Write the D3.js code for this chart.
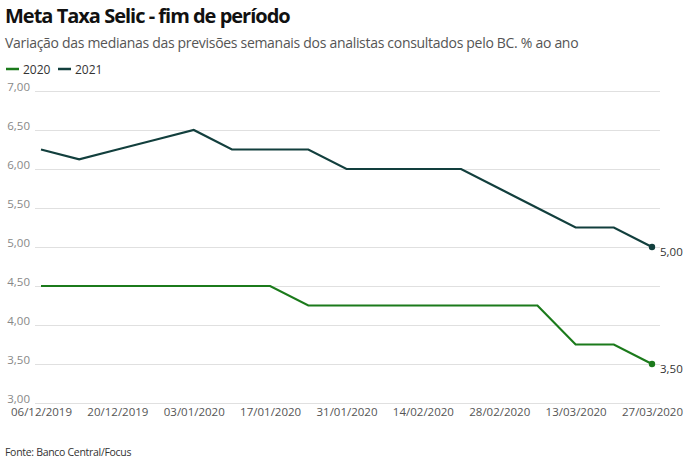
<!DOCTYPE html>
<html>
<head>
<meta charset="utf-8">
<script src="https://cdn.jsdelivr.net/npm/d3@7"></script>
<style>
    body { margin: 0; background: #fff; font-family: "Open Sans", sans-serif; }
    .grid line { stroke: #e0e0e0; }
    .grid path { display: none; }
    .axis path, .axis line { display: none; }
</style>
</head>
<body>
<div id="chart"></div>
<script>
// weekly Focus survey dates
let weekDates = ["06/12/2019", "13/12/2019", "20/12/2019", "27/12/2019", "03/01/2020", "10/01/2020",
    "17/01/2020", "24/01/2020", "31/01/2020", "07/02/2020", "14/02/2020", "21/02/2020",
    "28/02/2020", "06/03/2020", "13/03/2020", "20/03/2020", "27/03/2020"];
let selic2020 = [4.5, 4.5, 4.5, 4.5, 4.5, 4.5, 4.5, 4.25, 4.25, 4.25, 4.25, 4.25, 4.25, 4.25, 3.75, 3.75, 3.5];
let selic2021 = [6.25, 6.125, 6.25, 6.375, 6.5, 6.25, 6.25, 6.25, 6.0, 6.0, 6.0, 6.0, 5.75, 5.5, 5.25, 5.25, 5.0];
let yTicks = [3.0, 3.5, 4.0, 4.5, 5.0, 5.5, 6.0, 6.5, 7.0];
let xTickLabels = ["06/12/2019", "20/12/2019", "03/01/2020", "17/01/2020", "31/01/2020",
    "14/02/2020", "28/02/2020", "13/03/2020", "27/03/2020"];

let width = 700, height = 465;
let parseDate = d3.timeParse("%d/%m/%Y");
let br = d3.formatLocale({ decimal: ",", thousands: ".", grouping: [3], currency: ["R$", ""] });
let fmt = br.format(".2f");

let series = [
    { name: "2020", color: "#1b7a1b", values: selic2020 },
    { name: "2021", color: "#123f3d", values: selic2021 }
];

let svg = d3.select("#chart").append("svg")
    .attr("width", width)
    .attr("height", height);

// title + subtitle
svg.append("text")
    .attr("x", 5).attr("y", 23)
    .attr("font-size", 20).attr("font-weight", "bold")
    .attr("letter-spacing", -1)
    .attr("fill", "#111")
    .text("Meta Taxa Selic - fim de período");

svg.append("text")
    .attr("x", 5).attr("y", 48)
    .attr("font-size", 14).attr("letter-spacing", -0.3)
    .attr("fill", "#555")
    .text("Variação das medianas das previsões semanais dos analistas consultados pelo BC. % ao ano");

// legend
let legend = svg.append("g").attr("transform", "translate(6,69)");
let lx = 0;
series.forEach(s => {
    legend.append("line")
        .attr("x1", lx).attr("x2", lx + 13)
        .attr("stroke", s.color).attr("stroke-width", 2.5);
    legend.append("text")
        .attr("x", lx + 17).attr("y", 4.5)
        .attr("font-size", 12).attr("fill", "#333")
        .text(s.name);
    lx += 52;
});

// scales
let x = d3.scaleTime()
    .domain(d3.extent(weekDates, d => parseDate(d)))
    .range([41, 652]);

let y = d3.scaleLinear()
    .domain([3, 7])
    .range([403, 91]);

// grid lines
svg.append("g")
    .attr("class", "grid")
    .attr("transform", "translate(660,0)")
    .call(d3.axisLeft(y).tickValues(yTicks).tickSize(625).tickFormat(""));

// y axis labels
svg.append("g")
    .attr("class", "axis")
    .attr("transform", "translate(34,0)")
    .call(d3.axisLeft(y).tickValues(yTicks).tickSize(0).tickPadding(4).tickFormat(fmt))
    .selectAll("text")
    .attr("font-size", 11.5)
    .attr("font-family", "Open Sans")
    .attr("fill", "#888")
    .attr("dy", "-0.05em");

// x axis labels
svg.append("g")
    .attr("class", "axis")
    .attr("transform", "translate(0,403)")
    .call(d3.axisBottom(x).tickValues(xTickLabels.map(parseDate)).tickSize(0).tickPadding(5)
        .tickFormat(d3.timeFormat("%d/%m/%Y")))
    .selectAll("text")
    .attr("font-size", 11.5)
    .attr("font-family", "Open Sans")
    .attr("fill", "#555");

// lines
let line = d3.line()
    .x((d, i) => x(parseDate(weekDates[i])))
    .y(d => y(d));

series.forEach(s => {
    svg.append("path")
        .datum(s.values)
        .attr("fill", "none")
        .attr("stroke", s.color)
        .attr("stroke-width", 2.2)
        .attr("d", line);

    let last = s.values.length - 1;
    let cx = x(parseDate(weekDates[last])), cy = y(s.values[last]);
    svg.append("circle")
        .attr("cx", cx).attr("cy", cy)
        .attr("r", 3.2)
        .attr("fill", s.color);
    svg.append("text")
        .attr("x", cx + 8).attr("y", cy + 9)
        .attr("font-size", 11.5).attr("fill", "#333")
        .text(fmt(s.values[last]));
});

// source
svg.append("text")
    .attr("x", 5).attr("y", 456)
    .attr("font-size", 10.5).attr("letter-spacing", -0.3)
    .attr("fill", "#333")
    .text("Fonte: Banco Central/Focus");
</script>
</body>
</html>
